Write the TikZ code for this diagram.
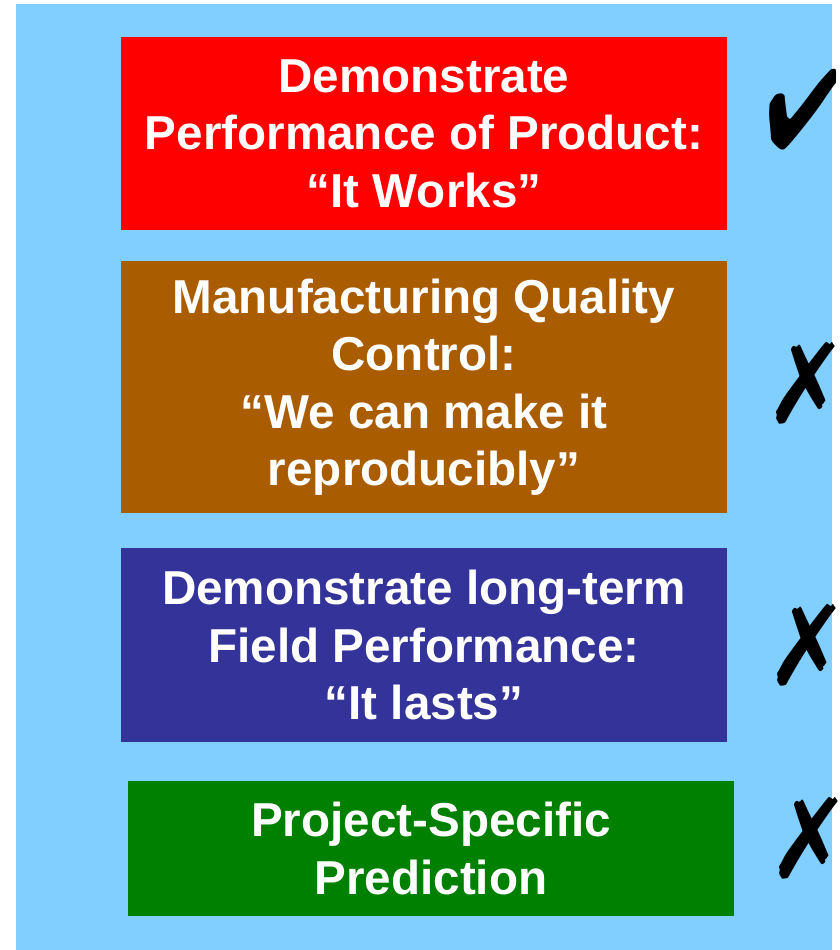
\documentclass[tikz,border=0pt]{standalone}
\usepackage{fontspec}
\setmainfont{Liberation Sans}
\usepackage{pifont}
\usepackage{tikz}
\usetikzlibrary{positioning}
\usepackage{xcolor}
\definecolor{skyback}{RGB}{128,207,255}
\definecolor{worksred}{RGB}{255,0,0}
\definecolor{qcbrown}{RGB}{170,92,0}
\definecolor{lastsblue}{RGB}{51,51,153}
\definecolor{predgreen}{RGB}{0,128,0}
\tikzset{%
	stage box/.style={
		rectangle,
		draw=none,
		minimum width=606pt,
		inner sep=0pt,
		align=center,
		text=white,
		font=\fontsize{47.6}{57.5}\selectfont\bfseries
	},
	status mark/.style={
		inner sep=0pt,
		font=\fontsize{108}{108}\selectfont
	},
}

\begin{document}
\begin{tikzpicture}[x=1pt,y=-1pt]
			\useasboundingbox (0,0) rectangle (839,950);
			% Draw the background
			\fill[skyback] (16,4) rectangle (832,950);
			
			% Draw the four stages
			\node[stage box, fill=worksred, minimum height=193pt] (works) at (424,133.5)
				{Demonstrate\\Performance of Product:\\“It Works”};
			\node[stage box, fill=qcbrown, minimum height=252pt] (quality) at (424,387)
				{Manufacturing Quality\\Control:\\“We can make it\\reproducibly”};
			\node[stage box, fill=lastsblue, minimum height=194pt] (lasts) at (424,645)
				{Demonstrate long-term\\Field Performance:\\“It lasts”};
			\node[stage box, fill=predgreen, minimum height=135pt] (predict) at (431,848.5)
				{Project-Specific\\Prediction};
			
			% Draw the marks on the right
			\node[status mark, xscale=0.8, yscale=1.04] (tick) at (803,110) {\ding{52}};
			\node[status mark, xscale=0.95, yscale=1.04] (cross1) at (806,383) {\ding{55}};
			\node[status mark, xscale=0.95, yscale=1.04] (cross2) at (807,645) {\ding{55}};
			\node[status mark, xscale=0.95, yscale=1.04] (cross3) at (809,838) {\ding{55}};
			
		\end{tikzpicture}
\end{document}
